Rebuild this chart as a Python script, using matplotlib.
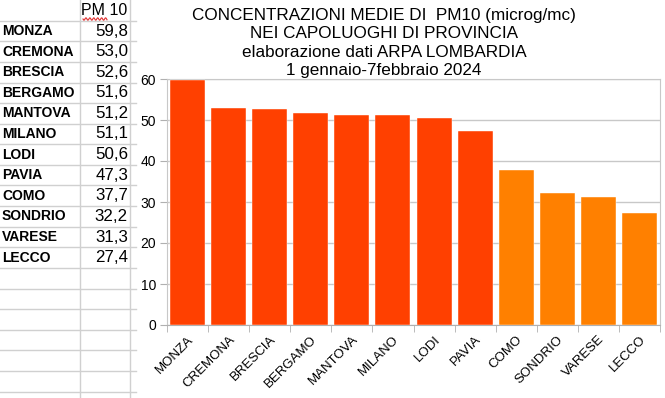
import numpy as np
import matplotlib.pyplot as plt

# data
cities = ["MONZA", "CREMONA", "BRESCIA", "BERGAMO", "MANTOVA", "MILANO",
          "LODI", "PAVIA", "COMO", "SONDRIO", "VARESE", "LECCO"]
pm10 = [59.8, 53.0, 52.6, 51.6, 51.2, 51.1, 50.6, 47.3, 37.7, 32.2, 31.3, 27.4]
bar_colors = ["#FF4000"] * 8 + ["#FF8000"] * 4
title_lines = ["CONCENTRAZIONI MEDIE DI  PM10 (microg/mc)",
               "NEI CAPOLUOGHI DI PROVINCIA",
               "elaborazione dati ARPA LOMBARDIA",
               "1 gennaio-7febbraio 2024"]

W, H = 665, 398
fig = plt.figure(figsize=(W / 100, H / 100), dpi=100)


def fx(px):
    return px / W


def fy(py):
    return 1 - py / H


# spreadsheet on the left
grid_c = "#d0d0d0"
row0, row_h = 20.7, 20.6
for k in range(19):
    y = row0 + row_h * k
    fig.add_artist(plt.Line2D([0, fx(136)], [fy(y), fy(y)], color=grid_c, lw=1))
for x in (80, 129.5):
    fig.add_artist(plt.Line2D([fx(x), fx(x)], [0, 1], color=grid_c, lw=1))

fig.text(fx(127.5), fy(10.5), "PM 10", ha="right", va="center", fontsize=11.5,
         family="Liberation Sans")
# spellcheck squiggle under "PM"
sx = np.linspace(83, 107, 60)
sy = 19 + 1.2 * np.sin((sx - 83) * 1.6)
fig.add_artist(plt.Line2D(fx(sx), fy(sy), color="#e03030", lw=0.8))

for i, (c, v) in enumerate(zip(cities, pm10)):
    yc = row0 + row_h * i + row_h / 2
    fig.text(fx(2), fy(yc), c, ha="left", va="center", fontsize=10,
             fontweight="bold", family="Liberation Sans")
    fig.text(fx(128), fy(yc), f"{v:.1f}".replace(".", ","), ha="right",
             va="center", fontsize=12.2, family="Liberation Sans")

# chart
left, right, top, bottom = 167, 660, 79, 325
ax = fig.add_axes([fx(left), fy(bottom), fx(right - left), (bottom - top) / H])
x = np.arange(len(cities))
ax.bar(x, pm10, width=0.85, color=bar_colors, edgecolor="#ffffff", lw=0.3,
       zorder=3)
ax.set_xlim(-0.5, len(cities) - 0.5)
ax.set_ylim(0, 60)
ax.set_yticks(range(0, 61, 10))
ax.yaxis.grid(True, color="#c8c8c8", lw=1, zorder=0)
for s in ax.spines.values():
    s.set_color("#c8c8c8")
ax.spines["bottom"].set_color("#b0b0b0")
ax.tick_params(axis="y", length=5, color="#b0b0b0", labelsize=10, pad=3)
ax.set_xticks(x)
ax.set_xticklabels(cities, rotation=45, ha="right", rotation_mode="anchor",
                   fontsize=9.5, family="Liberation Sans")
ax.tick_params(axis="x", length=0, pad=6)
ax.set_xticks(np.arange(-0.5, len(cities)), minor=True)
ax.tick_params(axis="x", which="minor", length=5, color="#b0b0b0")
for lab in ax.get_yticklabels():
    lab.set_family("Liberation Sans")

title_y = [15.5, 34, 52.5, 71]
for ty, line in zip(title_y, title_lines):
    fig.text(fx(384), fy(ty), line, ha="center", va="center",
             fontsize=12.3, family="Liberation Sans")

fig.savefig("out.png", dpi=100)
